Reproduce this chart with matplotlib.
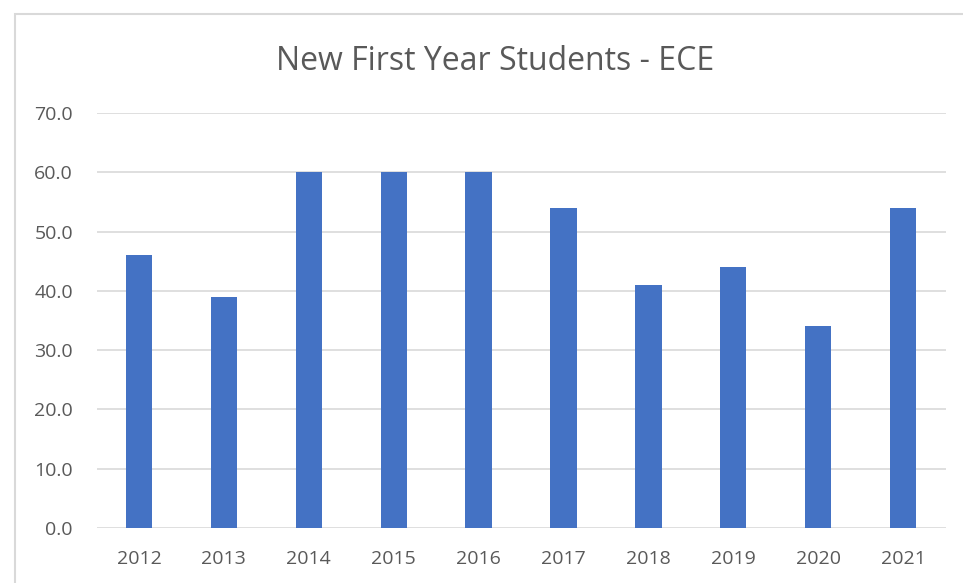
import matplotlib.pyplot as plt
from matplotlib.patches import Rectangle

years = ["2012", "2013", "2014", "2015", "2016", "2017", "2018", "2019", "2020", "2021"]
students = [46, 39, 60, 60, 60, 54, 41, 44, 34, 54]
y_ticks = [0, 10, 20, 30, 40, 50, 60, 70]

plt.rcParams['font.family'] = ['Open Sans', 'DejaVu Sans']

W, H = 963, 583
fig = plt.figure(figsize=(W / 100, H / 100), dpi=100)
ax = fig.add_axes([96.5 / W, 1 - 528 / H, (945.6 - 96.5) / W, (528 - 113) / H])

# chart-area border (runs off the right and bottom edges)
fig.patches.append(Rectangle((15 / W, -0.05), 1.1, 1 - 14 / H + 0.05,
                             transform=fig.transFigure, fill=False,
                             edgecolor="#d9d9d9", linewidth=1.5))

x = range(len(years))
ax.bar(x, students, width=0.31, color="#4472C4", zorder=3)

ax.set_xlim(-0.5, len(years) - 0.5)
ax.set_ylim(0, 70)
ax.set_yticks(y_ticks)
ax.set_yticklabels([f"{v:.1f}" for v in y_ticks])
ax.set_xticks(list(x))
ax.set_xticklabels(years)
ax.grid(axis="y", color="#d9d9d9", linewidth=1.2, zorder=0)
ax.tick_params(length=0, labelsize=14, labelcolor="#595959")
ax.tick_params(axis="y", pad=17)
ax.tick_params(axis="x", pad=16)
for s in ax.spines.values():
    s.set_visible(False)

fig.text(495 / W, 1 - 62 / H, "New First Year Students - ECE", ha="center", va="center",
         fontsize=23, color="#595959")

plt.savefig("out.png", dpi=100)
